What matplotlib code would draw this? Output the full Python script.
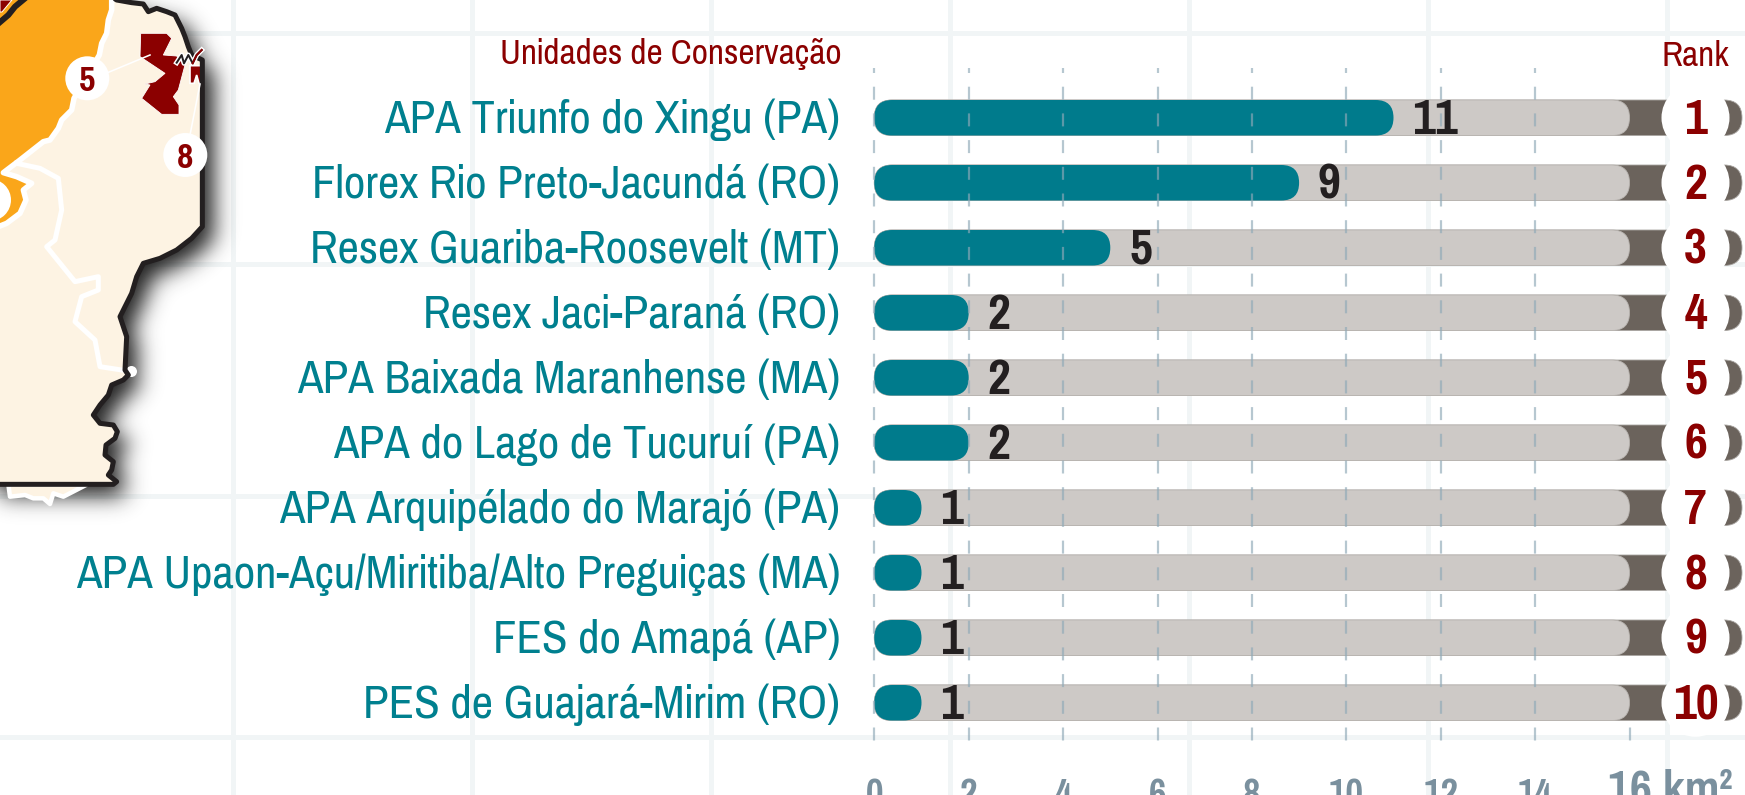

import numpy as np
import matplotlib
matplotlib.use('Agg')
import matplotlib.pyplot as plt
from matplotlib.patches import FancyBboxPatch, Polygon, Circle, Ellipse
from matplotlib.path import Path

# ---- data ----
categories = ["APA Triunfo do Xingu (PA)", "Florex Rio Preto-Jacundá (RO)",
              "Resex Guariba-Roosevelt (MT)", "Resex Jaci-Paraná (RO)",
              "APA Baixada Maranhense (MA)", "APA do Lago de Tucuruí (PA)",
              "APA Arquipélado do Marajó (PA)",
              "APA Upaon-Açu/Miritiba/Alto Preguiças (MA)",
              "FES do Amapá (AP)", "PES de Guajará-Mirim (RO)"]
values = [11, 9, 5, 2, 2, 2, 1, 1, 1, 1]
ranks = [1, 2, 3, 4, 5, 6, 7, 8, 9, 10]
tick_values = [0, 2, 4, 6, 8, 10, 12, 14]
track_end = 16
header_left = "Unidades de Conservação"
header_right = "Rank"
unit_label = "16 km²"

# ---- map outline (3x crop coordinates) ----
border3 = [(335,-10),(350,0),(395,8),(430,12),(445,35),(470,25),(500,35),(525,45),(545,85),(555,110),
           (565,140),(575,165),(607,180),(607,680),
           (575,715),(530,750),(480,775),(430,790),(410,830),(395,880),(360,950),(380,1010),
           (375,1110),(385,1125),(370,1140),(335,1155),(325,1185),(300,1215),(280,1245),(300,1270),
           (340,1275),(352,1295),(345,1315),(318,1335),(315,1365),(340,1385),(335,1410),(325,1425),
           (350,1445),(340,1453),(-30,1453)]
orange3 = [(335,-30),(335,30),(325,60),(320,100),(305,130),(298,165),(222,295),(215,330),(185,360),
           (175,385),(150,420),(130,425),(60,480),(10,518),
           (50,530),(95,550),(70,570),(78,600),(60,640),(20,670),(-30,690),(-30,-30)]
inner3 = [(50,490),(120,505),(175,535),(185,630),(165,720),(140,740),(225,845),(295,830),(295,870),
          (245,890),(225,965),(285,1020),(300,1100),(365,1110)]
south3 = [(25,1453),(30,1490),(75,1485),(100,1495),(130,1495),(150,1512),(160,1480),(190,1490),(258,1455)]
red3 = [(422,100),(500,100),(515,115),(490,165),(530,168),(555,195),(535,270),(520,290),(537,315),
        (537,343),(485,343),(425,295),(450,255),(435,252),(465,245),(495,220),(420,170)]
red_small3 = [(570,197),(605,197),(607,250),(597,250),(590,225),(582,250),(570,250)]
estuary3 = [(530,188),(545,165),(552,190),(565,165),(578,190),(590,165),(605,150)]
river3 = [(-10,75),(25,45),(45,20),(75,-5)]

def px(lst):
    return np.array(lst, dtype=float) / 3.0

W, H = 1745, 795
X0, UNIT = 874.3, 47.2      # pixel of value 0, pixels per km²
Y0, ROW = 117.75, 65.0      # pixel of first row centre, pixels per row
PT = 0.72                   # points per pixel at dpi 100

plt.rcParams['lines.scale_dashes'] = False
FONT = ['Pragati Narrow', 'Archivo Narrow', 'DejaVu Sans']
plt.rcParams['font.family'] = FONT

fig = plt.figure(figsize=(W / 100, H / 100), dpi=100, facecolor='white')

# background + map, in picture pixels
am = fig.add_axes([0, 0, 1, 1], zorder=0)
am.set_xlim(0, W); am.set_ylim(H, 0); am.axis('off')
for g in [233, 472, 711, 950, 1189, 1428, 1667]:
    am.plot([g, g], [0, H], color='#F1F5F6', lw=5 * PT, zorder=1)
for g in [33, 264, 496, 737]:
    am.plot([0, W], [g, g], color='#F1F5F6', lw=5 * PT, zorder=1)

# blurred drop shadow of the map
b = px(border3)
outline = np.vstack([b, [[-40, -40]], [[b[0][0], -40]]])
yy, xx = np.mgrid[0:600, 0:330]
mask = Path(outline).contains_points(
    np.c_[xx.ravel() - 11, yy.ravel() - 11]).reshape(xx.shape).astype(float)
kx = np.arange(-36, 37); k = np.exp(-kx**2 / (2 * 11.0**2)); k /= k.sum()
pad = np.pad(mask, 36, mode='edge')
blur = np.apply_along_axis(lambda r: np.convolve(r, k, mode='same'), 0, pad)
blur = np.apply_along_axis(lambda r: np.convolve(r, k, mode='same'), 1, blur)[36:-36, 36:-36]
rgba = np.zeros(mask.shape + (4,)); rgba[..., :3] = 0.13; rgba[..., 3] = blur
am.imshow(rgba, extent=(0, 330, 600, 0), zorder=2, interpolation='bilinear', aspect='auto')
am.set_xlim(0, W); am.set_ylim(H, 0)

CREAM = '#FDF3E3'
am.add_patch(Polygon(px(south3), closed=True, fc=CREAM, ec='white', lw=4.5 * PT, zorder=3, joinstyle='round'))
am.add_patch(Polygon(outline, closed=True, fc=CREAM, ec='none', zorder=4))
am.add_patch(Polygon(px(orange3), closed=True, fc='#FAA61A', ec='white', lw=5.5 * PT, zorder=5, joinstyle='round'))
ix, iy = px(inner3).T
am.plot(ix, iy, color='white', lw=5 * PT, zorder=5, solid_joinstyle='round')
am.add_patch(Circle((131.5, 371.5), 5.5, fc='white', ec='none', zorder=5))
am.add_patch(Polygon(px(red3), closed=True, fc='#8B0000', ec='white', lw=0.6, zorder=6))
am.add_patch(Polygon(px(red_small3), closed=True, fc='#8B0000', ec='white', lw=1.2, zorder=6))
ex, ey = px(estuary3).T
am.plot(ex, ey, color='white', lw=5 * PT, zorder=9)
am.plot(ex, ey, color='#231F20', lw=2 * PT, zorder=9)
am.plot(ex[-3:], ey[-3:], color='#8B0000', lw=2 * PT, zorder=9)
rx, ry = px(river3).T
am.plot(rx, ry, color='#231F20', lw=6 * PT, zorder=7)
am.add_patch(Polygon([(0, 0), (12, 0), (2, 12), (0, 12)], closed=True, fc='#8B0000', ec='white', lw=0.7, zorder=8))
bx, by = b.T
am.plot(bx, by, color='#231F20', lw=5 * PT, zorder=8, solid_joinstyle='round', solid_capstyle='round')
# callouts
am.plot([108, 150], [72.5, 55], color='white', lw=1.6 * PT, zorder=9)
am.plot([190, 200], [135, 84], color='white', lw=1.6 * PT, zorder=9)
for cx, cy, s in [(87.3, 78.3, '5'), (185.3, 155, '8')]:
    am.add_patch(Circle((cx, cy), 22, fc='white', ec='none', zorder=10))
    am.text(cx, cy, s, color='#8B0000', fontsize=28, fontweight='bold', ha='center', va='center_baseline', zorder=11)
am.add_patch(Circle((-10, 200), 21, fc='white', ec='none', zorder=10))

# chart, in data coordinates
ax = fig.add_axes([0, 0, 1, 1], zorder=1)
ax.patch.set_alpha(0)
ax.set_xlim(-X0 / UNIT, (W - X0) / UNIT)
ax.set_ylim((H - Y0) / ROW, -Y0 / ROW)
ax.axis('off')

BAR_H = 35.5 / ROW
rad = 17.75 / UNIT
asp = UNIT / ROW

def pill(x0, x1, y, color, z, ec='none', lw=0):
    p = FancyBboxPatch((x0, y - BAR_H / 2), x1 - x0, BAR_H,
                       boxstyle=f"round,pad=0,rounding_size={rad}",
                       mutation_aspect=asp, fc=color, ec=ec, lw=lw, zorder=z)
    ax.add_patch(p)

track_dark_end = (1742 - X0) / UNIT
teal = '#007B8C'
LABEL_FS = 36.6
NUM_FS = 39
for i, (c, v, r) in enumerate(zip(categories, values, ranks)):
    pill(0, track_dark_end, i, '#6B635C', 2, ec='#A9A5A1', lw=0.6)
    pill(0, track_end, i, '#CDC9C6', 3, ec='#B9B5B1', lw=0.6)
    ax.add_patch(Ellipse(((1695.5 - X0) / UNIT, i), 68 / UNIT, 68 / ROW, fc='white', ec='none', zorder=4))
    pill(0, v, i, teal, 5)
    ax.text(-0.72, i + 0.24, c, color='#00808F', fontsize=LABEL_FS, ha='right', va='baseline', zorder=7)
    ax.text(v + 0.4, i + 0.25, str(v), color='#231F20', fontsize=NUM_FS, fontweight='bold',
            ha='left', va='baseline', zorder=7)
    ax.text((1695.5 - X0) / UNIT, i + 0.25, str(r), color='#8B0000', fontsize=NUM_FS, fontweight='bold',
            ha='center', va='baseline', zorder=7)

# dashed value guides
y_top = (68 - Y0) / ROW
y_bot = (753 - Y0) / ROW
dash = (13 * PT, 13.7 * PT)
period = 26.7
for t in tick_values:
    ax.plot([t, t], [y_top, y_bot], color='#8FA9B8', alpha=0.65, lw=2.2 * PT, zorder=6,
            linestyle=(8 * PT, dash), dash_capstyle='butt')
start16 = 722
ax.plot([track_end, track_end], [(start16 - Y0) / ROW, y_bot], color='#8FA9B8', alpha=0.65, lw=2.2 * PT, zorder=6,
        linestyle=(((start16 - 68 + 8) % period) * PT, dash), dash_capstyle='butt')

# tick labels (cut by the lower edge as in the reference)
tick_base = (806 - Y0) / ROW
for t in tick_values:
    ax.text(t, tick_base, str(t), color='#7A909E', fontsize=30, fontweight='bold',
            ha='center', va='baseline', zorder=7)
ax.text((1608 - X0) / UNIT, (803.5 - Y0) / ROW, unit_label, color='#7A909E', fontsize=37.5, fontweight='bold',
        ha='left', va='baseline', zorder=7)

# headers
ax.text((842 - X0) / UNIT, (64 - Y0) / ROW, header_left, color='#8B0000', fontsize=27.7,
        ha='right', va='baseline', zorder=7)
ax.text((1729 - X0) / UNIT, (66 - Y0) / ROW, header_right, color='#8B0000', fontsize=27.7,
        ha='right', va='baseline', zorder=7)

fig.savefig('out.png', dpi=100)
